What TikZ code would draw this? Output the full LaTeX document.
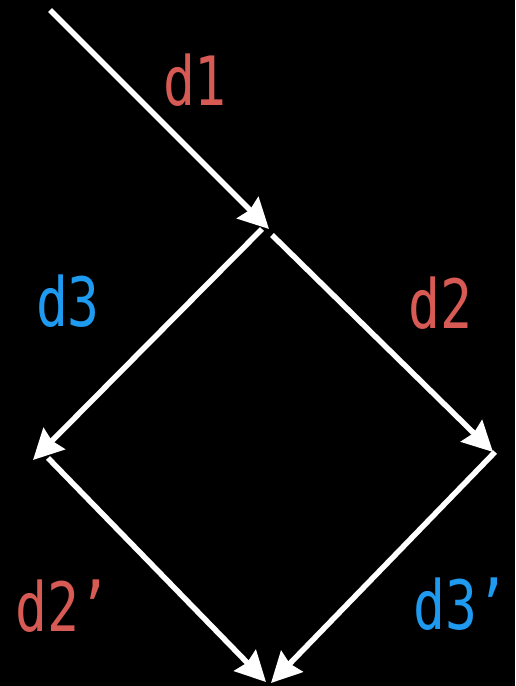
\documentclass[tikz,border=0pt]{standalone}
\usepackage{fontspec}
\usetikzlibrary{arrows.meta}
\newfontfamily\labfont[FakeStretch=0.78]{DejaVu Sans Mono}
\definecolor{lred}{HTML}{D85A54}
\definecolor{lblue}{HTML}{1E9BF0}
\begin{document}
\begin{tikzpicture}[x=1pt,y=-1pt,
  edge/.style={draw=white,line width=5.5pt,-{Stealth[length=30pt,width=30pt,inset=3pt]}},
  lab/.style={font=\labfont\fontsize{68}{72}\selectfont,inner sep=0pt,anchor=center}]
\fill[black] (0,0) rectangle (515,686);
\useasboundingbox (0,0) rectangle (515,686);
\coordinate (s1) at (50,10);
\coordinate (t1) at (269,229);
\coordinate (s3) at (262,229);
\coordinate (t3) at (33,460);
\coordinate (s2) at (272,235);
\coordinate (t2) at (493,452);
\coordinate (s2p) at (48,458);
\coordinate (t2p) at (266,682);
\coordinate (s3p) at (495,452);
\coordinate (t3p) at (271,683);
\draw[edge] (s1) -- (t1);
\draw[edge] (s3) -- (t3);
\draw[edge] (s2) -- (t2);
\draw[edge] (s2p) -- (t2p);
\draw[edge] (s3p) -- (t3p);
\node[lab,text=lred] (ld1) at (195,80) {d1};
\node[lab,text=lblue] (ld3) at (68,301) {d3};
\node[lab,text=lred] (ld2) at (440,303) {d2};
\node[lab,text=lred] (ld2p) at (63,606) {d2’};
\node[lab,text=lblue] (ld3p) at (461,604) {d3’};
\end{tikzpicture}
\end{document}
